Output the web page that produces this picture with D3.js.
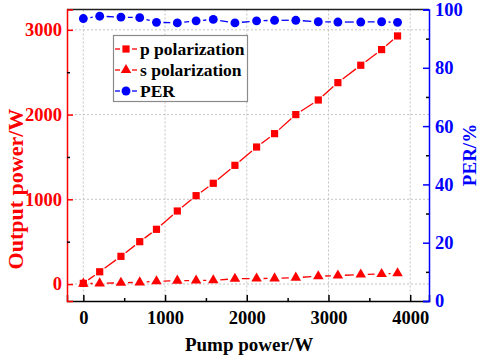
<!DOCTYPE html>
<html>
<head>
<meta charset="utf-8">
<script src="https://cdn.jsdelivr.net/npm/d3@7"></script>
<style>
	body { margin: 0; background: #fff; }
</style>
</head>
<body>
<div id="container"></div>
<script>

// data
var pump = [0, 200, 460, 690, 895, 1150, 1380, 1590, 1855, 2120, 2340, 2600, 2875, 3115, 3395, 3650, 3845];
var pPol = [8, 145, 327, 500, 646, 862, 1043, 1189, 1401, 1617, 1775, 2000, 2172, 2377, 2582, 2767, 2928];
var sPol = [5, 8, 15, 20, 33, 40, 42, 45, 62, 65, 67, 75, 92, 100, 112, 118, 128];
var per = [96.9, 97.7, 97.4, 97.2, 95.6, 95.4, 96.1, 96.6, 95.4, 96.1, 96.3, 96.3, 95.8, 95.7, 95.7, 95.8, 95.6];

var xTicks = [0, 1000, 2000, 3000, 4000];
var yLeftTicks = [0, 1000, 2000, 3000];
var yRightTicks = [0, 20, 40, 60, 80, 100];

var width = 484, height = 358;
var red = "#ff0000", blue = "#0000ff";
var serif = "'Liberation Serif', 'Times New Roman', Times, serif";

var svg = d3.select("#container").append("svg")
	.attr("width", width)
	.attr("height", height);

var x = d3.scaleLinear().domain([-200, 4230]).range([67, 429]);
var yL = d3.scaleLinear().domain([-200, 3240]).range([301, 9.5]);
var yR = d3.scaleLinear().domain([0, 100]).range([301, 9.5]);

// grid
svg.append("g").selectAll("line")
	.data(xTicks).enter()
	.append("line")
		.attr("x1", function(d) { return x(d); })
		.attr("x2", function(d) { return x(d); })
		.attr("y1", 9.5).attr("y2", 301)
		.attr("stroke", "#c4c4c4")
		.attr("stroke-dasharray", "2,2");

svg.append("g").selectAll("line")
	.data(yLeftTicks).enter()
	.append("line")
		.attr("x1", 67).attr("x2", 429)
		.attr("y1", function(d) { return yL(d); })
		.attr("y2", function(d) { return yL(d); })
		.attr("stroke", "#c4c4c4")
		.attr("stroke-dasharray", "2,2");

// top frame line
svg.append("line")
	.attr("x1", 67).attr("x2", 429)
	.attr("y1", 9.5).attr("y2", 9.5)
	.attr("stroke", "#222").attr("stroke-width", 1.5);

// axes (ticks pointing inside)
var xAxis = svg.append("g")
	.attr("transform", "translate(0,301)")
	.call(d3.axisBottom(x).tickValues(xTicks).tickSize(-6).tickPadding(10).tickFormat(d3.format("d")));
svg.append("g")
	.attr("transform", "translate(0,301)")
	.call(d3.axisBottom(x).tickValues([500, 1500, 2500, 3500]).tickSize(-3).tickFormat(""))
	.select(".domain").remove();

var yAxisL = svg.append("g")
	.attr("transform", "translate(67,0)")
	.call(d3.axisLeft(yL).tickValues(yLeftTicks).tickSize(-6).tickPadding(5).tickFormat(d3.format("d")));
svg.append("g")
	.attr("transform", "translate(67,0)")
	.call(d3.axisLeft(yL).tickValues([500, 1500, 2500]).tickSize(-3).tickFormat(""))
	.select(".domain").remove();

var yAxisR = svg.append("g")
	.attr("transform", "translate(429,0)")
	.call(d3.axisRight(yR).tickValues(yRightTicks).tickSize(-6).tickPadding(6).tickFormat(d3.format("d")));
svg.append("g")
	.attr("transform", "translate(429,0)")
	.call(d3.axisRight(yR).tickValues([10, 30, 50, 70, 90]).tickSize(-3).tickFormat(""))
	.select(".domain").remove();

function styleAxis(g, color) {
	g.attr("font-family", null).attr("font-size", null);
	g.selectAll("path, line").attr("stroke", color).attr("stroke-width", 1.5);
	g.selectAll("text")
		.attr("fill", color)
		.style("font-family", serif)
		.style("font-weight", "bold")
		.style("font-size", "18.5px");
}
styleAxis(xAxis, "#000");
styleAxis(yAxisL, red);
styleAxis(yAxisR, blue);
svg.selectAll(".tick line").attr("stroke-width", 1.5);

// axis titles
function title(t, color, size) {
	return svg.append("text")
		.style("font-family", serif)
		.style("font-weight", "bold")
		.style("font-size", size + "px")
		.style("text-anchor", "middle")
		.attr("fill", color)
		.text(t);
}
title("Output power/W", red, 22).attr("transform", "translate(23,189) rotate(-90)");
title("PER/%", blue, 19).attr("transform", "translate(476,155) rotate(-90)");
title("Pump power/W", "#000", 19).attr("x", 249).attr("y", 351);

// lines drawn as segments that stop short of the symbols
function drawSeries(values, yScale, color, symbol, size, gap) {
	var pts = values.map(function(v, i) { return [x(pump[i]), yScale(v)]; });
	var segs = d3.pairs(pts).map(function(p) {
		var dx = p[1][0] - p[0][0], dy = p[1][1] - p[0][1];
		var len = Math.sqrt(dx * dx + dy * dy);
		var ux = dx / len, uy = dy / len;
		return [p[0][0] + ux * gap, p[0][1] + uy * gap, p[1][0] - ux * gap, p[1][1] - uy * gap];
	});
	var g = svg.append("g");
	g.selectAll("line")
		.data(segs).enter()
		.append("line")
			.attr("x1", function(d) { return d[0]; })
			.attr("y1", function(d) { return d[1]; })
			.attr("x2", function(d) { return d[2]; })
			.attr("y2", function(d) { return d[3]; })
			.attr("stroke", color)
			.attr("stroke-width", 1.3);
	g.selectAll("path")
		.data(pts).enter()
		.append("path")
			.attr("d", d3.symbol().type(symbol).size(size))
			.attr("transform", function(d) { return "translate(" + d[0] + "," + d[1] + ")"; })
			.attr("fill", color);
}

drawSeries(pPol, yL, red, d3.symbolSquare, 52, 6);
drawSeries(sPol, yL, red, d3.symbolTriangle, 48, 7);
drawSeries(per, yR, blue, d3.symbolCircle, 62, 7);

// legend
var legendItems = [
	{name: "p polarization", color: red, symbol: d3.symbolSquare, size: 52},
	{name: "s polarization", color: red, symbol: d3.symbolTriangle, size: 48},
	{name: "PER", color: blue, symbol: d3.symbolCircle, size: 62}
];

svg.append("rect")
	.attr("x", 113.5).attr("y", 35.5)
	.attr("width", 134).attr("height", 66)
	.attr("fill", "#fff")
	.attr("stroke", "#8a8a8a")
	.attr("stroke-width", 1.2);

var legend = svg.selectAll(".legend")
	.data(legendItems).enter()
	.append("g")
		.attr("class", "legend")
		.attr("transform", function(d, i) { return "translate(0," + (49 + i * 21) + ")"; });

legend.append("line")
	.attr("x1", 115).attr("x2", 120)
	.attr("stroke", function(d) { return d.color; }).attr("stroke-width", 1.3);
legend.append("line")
	.attr("x1", 132).attr("x2", 137)
	.attr("stroke", function(d) { return d.color; }).attr("stroke-width", 1.3);
legend.append("path")
	.attr("d", function(d) { return d3.symbol().type(d.symbol).size(d.size)(); })
	.attr("transform", "translate(126,0)")
	.attr("fill", function(d) { return d.color; });
legend.append("text")
	.attr("x", 140)
	.attr("dy", "0.33em")
	.style("font-family", serif)
	.style("font-weight", "bold")
	.style("font-size", "17.5px")
	.attr("fill", "#000")
	.text(function(d) { return d.name; });

</script>
</body>
</html>
